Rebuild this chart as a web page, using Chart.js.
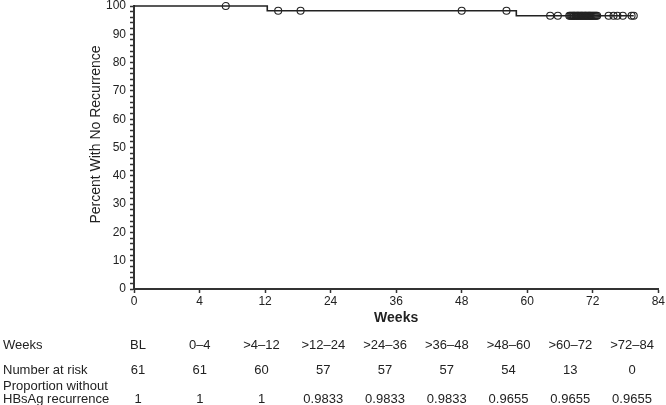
<!DOCTYPE html>
<html>
<head>
<meta charset="utf-8">
<script src="https://cdn.jsdelivr.net/npm/chart.js@4.4.1/dist/chart.umd.min.js"></script>
<style>
    body { margin: 0; background: #fff; }
</style>
</head>
<body>
<canvas id="chart" width="666" height="405"></canvas>
<script>
// x axis: tick labels are evenly spaced although the weeks are not
const tickWeeks = [0, 4, 12, 24, 36, 48, 60, 72, 84];

// Kaplan-Meier steps (weeks, percent)
const eventWeeks = [0, 12.4, 58.0];
const eventPercent = [100, 98.33, 96.55];
const lastFollowUp = 79.5;

// censored patients (weeks)
const censorWeeks = [
    7.2, 14.4, 18.5, 48.0, 56.2, 64.2, 65.6,
    67.7, 67.9, 68.1, 68.3, 68.5, 68.6, 68.8, 69.0, 69.2, 69.3,
    69.5, 69.7, 69.9, 70.0, 70.2, 70.4, 70.6, 70.7, 70.9, 71.1,
    71.3, 71.4, 71.6, 71.8, 72.0, 72.2, 72.4, 72.6, 72.8,
    74.9, 75.8, 76.5, 77.5, 79.1, 79.5
];

// table under the chart
const intervalLabels = ['BL', '0\u20134', '>4\u201312', '>12\u201324', '>24\u201336', '>36\u201348', '>48\u201360', '>60\u201372', '>72\u201384'];
const numberAtRisk = [61, 61, 60, 57, 57, 57, 54, 13, 0];
const proportion = ['1', '1', '1', '0.9833', '0.9833', '0.9833', '0.9655', '0.9655', '0.9655'];

const FONT = '"Liberation Sans", Arial, sans-serif';
const INK = '#222';

/**
 * Maps weeks onto the evenly spaced tick positions
 * @param {number} w
 * @return {number}
 */
function weekToPos(w) {
    for (let i = 1; i < tickWeeks.length; i++) {
        if (w <= tickWeeks[i]) {
            return i - 1 + (w - tickWeeks[i - 1]) / (tickWeeks[i] - tickWeeks[i - 1]);
        }
    }
    return tickWeeks.length - 1;
}

function percentAt(w) {
    let p = eventPercent[0];
    for (let i = 0; i < eventWeeks.length; i++) {
        if (w >= eventWeeks[i]) p = eventPercent[i];
    }
    return p;
}

const curve = eventWeeks.map((w, i) => ({x: weekToPos(w), y: eventPercent[i]}));
curve.push({x: weekToPos(lastFollowUp), y: percentAt(lastFollowUp)});

const censors = censorWeeks.map(w => ({x: weekToPos(w), y: percentAt(w)}));

const textPlugin = {
    id: 'riskTable',
    afterDraw(chart) {
        const ctx = chart.ctx;
        const y = chart.scales.y;
        ctx.save();
        ctx.fillStyle = INK;

        // y axis title, a little above the axis middle as in the original
        ctx.save();
        ctx.font = '14px ' + FONT;
        ctx.textAlign = 'center';
        ctx.textBaseline = 'alphabetic';
        ctx.translate(100, (y.top + y.bottom) / 2 - 13);
        ctx.rotate(-Math.PI / 2);
        ctx.fillText('Percent With No Recurrence', 0, 0);
        ctx.restore();

        ctx.font = '13px ' + FONT;
        ctx.textBaseline = 'middle';
        ctx.textAlign = 'left';
        ctx.fillText('Weeks', 3, 345);
        ctx.fillText('Number at risk', 3, 370);
        ctx.fillText('Proportion without', 3, 386);
        ctx.fillText('HBsAg recurrence', 3, 399);

        // table columns sit a bit tighter than the axis ticks
        ctx.textAlign = 'center';
        intervalLabels.forEach((label, i) => {
            const px = 138 + i * 61.75;
            ctx.fillText(label, px, 345);
            ctx.fillText(String(numberAtRisk[i]), px, 370);
            ctx.fillText(proportion[i], px, 399);
        });
        ctx.restore();
    }
};

new Chart(document.getElementById('chart'), {
    type: 'scatter',
    data: {
        datasets: [
            {
                type: 'line',
                data: curve,
                stepped: 'before',
                borderColor: INK,
                borderWidth: 1.6,
                pointRadius: 0,
                fill: false,
                clip: false,
            },
            {
                data: censors,
                pointRadius: 3.5,
                pointStyle: 'circle',
                backgroundColor: 'rgba(0,0,0,0)',
                borderColor: INK,
                borderWidth: 1.1,
                clip: false,
            }
        ]
    },
    options: {
        responsive: false,
        animation: false,
        devicePixelRatio: 1,
        layout: {padding: {top: 6, right: 4, bottom: 78, left: 0}},
        plugins: {legend: {display: false}, tooltip: {enabled: false}},
        scales: {
            x: {
                type: 'linear',
                min: 0,
                max: 8,
                afterFit(scale) { scale.height = 38; },
                afterBuildTicks(scale) {
                    scale.ticks = tickWeeks.map((w, i) => ({value: i}));
                },
                ticks: {
                    color: INK,
                    font: {family: FONT, size: 12},
                    padding: 1,
                    maxRotation: 0,
                    callback: (v) => tickWeeks[v],
                },
                grid: {drawOnChartArea: false, tickLength: 4, tickColor: '#333', tickWidth: 1.5},
                border: {color: '#333', width: 2},
                title: {
                    display: true,
                    text: 'Weeks',
                    color: INK,
                    font: {family: FONT, size: 14, weight: 'bold'},
                    padding: 0,
                },
            },
            y: {
                min: 0,
                max: 100,
                afterFit(scale) {
                    scale.width = 134;
                    scale.paddingTop = 0;
                },
                ticks: {
                    stepSize: 2,
                    color: INK,
                    font: {family: FONT, size: 12, lineHeight: 0.4},
                    padding: 4,
                    autoSkip: false,
                    callback: (v) => (v % 10 === 0 ? v : ''),
                },
                grid: {drawOnChartArea: false, tickLength: 4, tickColor: '#333', tickWidth: 1.5},
                border: {color: '#333', width: 2},
            }
        }
    },
    plugins: [textPlugin]
});
</script>
</body>
</html>
